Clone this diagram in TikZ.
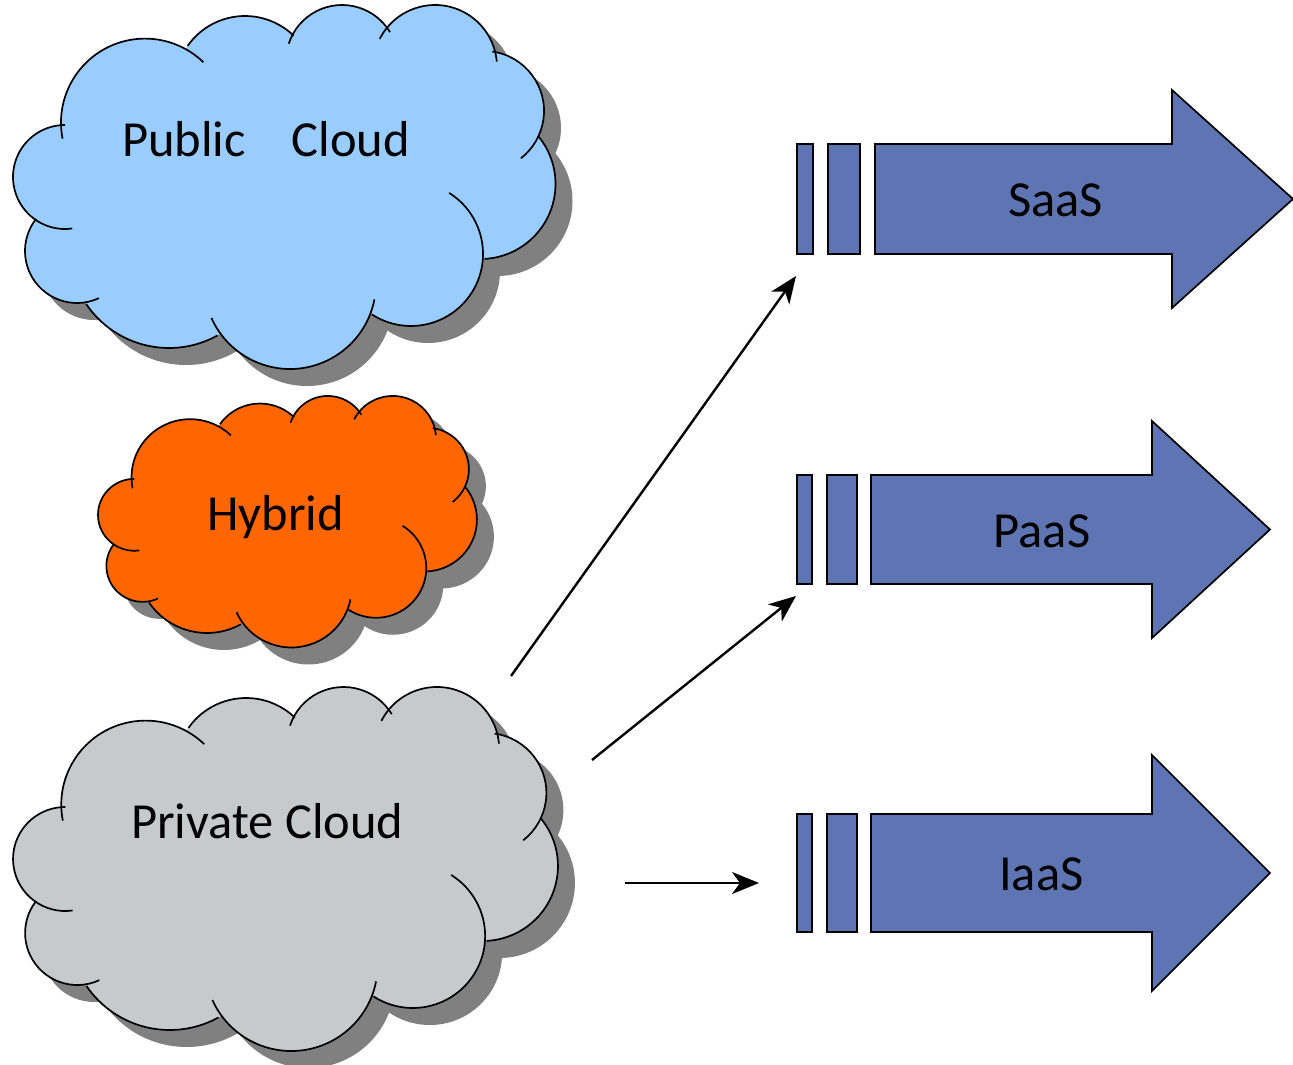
\documentclass[tikz,border=0pt]{standalone}
\usepackage{fontspec}
\setmainfont{Carlito}
\usetikzlibrary{arrows.meta}
\definecolor{publicblue}{HTML}{99CCFF}
\definecolor{hybridorange}{HTML}{FF6600}
\definecolor{privategray}{HTML}{C6CACD}
\definecolor{barblue}{HTML}{5F75B3}
\definecolor{shadowgray}{HTML}{808080}
\tikzset{
    label/.style = {inner sep = 0, anchor = base west, font = \fontsize{50.5}{55}\selectfont},
    barshape/.style = {draw, fill = barblue, line width = 1.7},
    flow/.style = {line width = 2.4, -{Stealth[length = 27, width = 22, inset = 8]}},
    outline/.style = {line width = 1.7}
}
% the lobes of a cloud: centre, radius, first and last angle
\newcommand{\lobes}{65/177/52/82/270, 145/122.6/84/169/314, 245/86/70/215/314, 342/61/56/198/329,
    435/67/62/207/355, 484/111/60/278/412, 480.5/184/75/320/447, 411/254/72/302/483,
    290/283/86/11/156, 169/248/100/61/146, 77/251/52/65/218}
\newcommand{\cloudfill}[1]{
    \foreach \cx/\cy/\rad/\angA/\angB in \lobes
        {\fill[#1] (\cx, \cy) circle[radius = \rad];};
    \fill[#1] (100, 100) rectangle (450, 280);
}
% x shift, y shift, x scale, y scale, colour
\newcommand{\cloud}[5]{
    \begin{scope}[shift = {(#1 + 17, #2 + 17)}, xscale = #3, yscale = #4]
        \cloudfill{shadowgray}
    \end{scope}
    \begin{scope}[shift = {(#1, #2)}, xscale = #3, yscale = #4]
        \cloudfill{#5}
        \foreach \cx/\cy/\rad/\angA/\angB in \lobes
            {\draw[outline] ({\cx + \rad*cos(\angA)}, {\cy + \rad*sin(\angA)})
                arc[start angle = \angA, end angle = \angB, radius = \rad];};
    \end{scope}
}
\begin{document}
\begin{tikzpicture}[x = 1pt, y = -1pt]
\useasboundingbox (0, 0) rectangle (1293, 1065);
\cloud{0}{0}{1}{1}{publicblue}
\cloud{88.9}{392.5}{0.6985}{0.691}{hybridorange}
\cloud{0}{682}{1.0044}{1}{privategray}
% first bar, second bar, body start, head start, tip, top, bottom, head top
\foreach \xa/\xb/\xc/\xd/\xe/\xf/\xg/\xh/\xi/\xj in {
    797/813/828/860/875/1172/1293/144/254/90,
    797/812/827/857/871/1152/1270/475/584/421,
    797/812/827/857/871/1152/1270/814/932/755}
    {\draw[barshape] (\xa, \xh) rectangle (\xb, \xi);
     \draw[barshape] (\xc, \xh) rectangle (\xd, \xi);
     \draw[barshape] (\xe, \xh) -- (\xf, \xh) -- (\xf, \xj) -- (\xg, {(\xh + \xi)/2})
        -- (\xf, {\xh + \xi - \xj}) -- (\xf, \xi) -- (\xe, \xi) -- cycle;};
\node[label] (publiclabel) at (122, 156) {Public\hspace{46pt}Cloud};
\node[label] (hybridlabel) at (207, 530) {Hybrid};
\node[label] (privatelabel) at (131, 838.5) {Private Cloud};
\node[label] (saaslabel) at (1008, 216) {SaaS};
\node[label] (paaslabel) at (993.5, 547) {PaaS};
\node[label] (iaaslabel) at (999, 890.5) {IaaS};
\coordinate (saasstart) at (511, 676);
\coordinate (saasend) at (796, 276);
\coordinate (paasstart) at (592, 760);
\coordinate (paasend) at (796, 596);
\coordinate (iaasstart) at (625, 883);
\coordinate (iaasend) at (759, 883);
\draw[flow] (saasstart) -- (saasend);
\draw[flow] (paasstart) -- (paasend);
\draw[flow] (iaasstart) -- (iaasend);
\end{tikzpicture}
\end{document}
